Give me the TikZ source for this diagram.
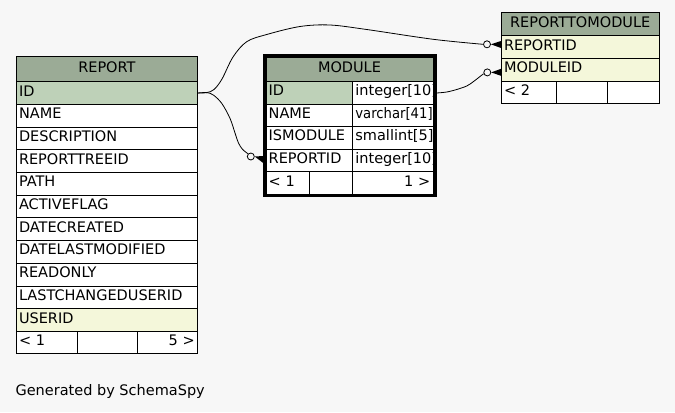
\documentclass[tikz,border=0pt]{standalone}
\usepackage{fontspec}
\setmainfont{DejaVu Sans}
\definecolor{bg}{HTML}{F7F7F7}
\definecolor{hdr}{HTML}{9BAB96}
\definecolor{pk}{HTML}{BED1B8}
\definecolor{idx}{HTML}{F4F7DA}
\tikzset{
  cell/.style={draw=black, line width=0.75pt, rectangle, anchor=north west,
    inner xsep=2.025pt, inner ysep=0pt, outer sep=0pt, fill=white,
    text height=7.5pt, text depth=3pt,
    font=\fontsize{10.875}{13}\selectfont, align=left},
  cw/.style={minimum width=#1*0.75pt, text width=(#1-5.4)*0.75pt},
  ch/.style={minimum height=#1*0.75pt},
  hdrcell/.style={cell, fill=hdr, align=center},
  pkcell/.style={cell, fill=pk},
  idxcell/.style={cell, fill=idx},
  rcell/.style={cell, align=right},
  conn/.style={draw=black, line width=0.6pt},
  odot/.style={circle, draw=black, fill=bg, line width=0.6pt, minimum size=5.25pt, inner sep=0pt},
  crow/.style={fill=black},
  frame/.style={draw=black, line width=2pt}
}
\begin{document}
\begin{tikzpicture}[x=0.75pt, y=-0.75pt]
\useasboundingbox (0,0) rectangle (675,412);
\fill[bg] (0,0) rectangle (675,412);

% ---------- REPORT ----------
\node[hdrcell, cw=181.2, ch=25] (rep-h) at (16.3,56.7) {REPORT};
\node[pkcell, cw=181.2, ch=22.7] (rep-id) at (16.3,81.7) {ID};
\node[cell, cw=181.2, ch=22.7] (rep-name) at (16.3,104.4) {NAME};
\node[cell, cw=181.2, ch=22.7] (rep-desc) at (16.3,127.1) {DESCRIPTION};
\node[cell, cw=181.2, ch=22.7] (rep-tree) at (16.3,149.8) {REPORTTREEID};
\node[cell, cw=181.2, ch=22.7] (rep-path) at (16.3,172.5) {PATH};
\node[cell, cw=181.2, ch=22.7] (rep-act) at (16.3,195.2) {ACTIVEFLAG};
\node[cell, cw=181.2, ch=22.7] (rep-dc) at (16.3,217.9) {DATECREATED};
\node[cell, cw=181.2, ch=22.7] (rep-dlm) at (16.3,240.6) {DATELASTMODIFIED};
\node[cell, cw=181.2, ch=22.7] (rep-ro) at (16.3,263.3) {READONLY};
\node[cell, cw=181.2, ch=22.7] (rep-lcu) at (16.3,286.0) {LASTCHANGEDUSERID};
\node[idxcell, cw=181.2, ch=22.7] (rep-uid) at (16.3,308.7) {USERID};
\node[cell, cw=61, ch=22] (rep-f1) at (16.3,331.4) {< 1};
\node[cell, cw=60, ch=22] (rep-f2) at (77.3,331.4) {};
\node[rcell, cw=60.2, ch=22] (rep-f3) at (137.3,331.4) {5 >};

% ---------- MODULE ----------
\draw[fill=white, frame] (264.6,55.6) rectangle (435.6,195.6);
\begin{scope}
\clip (265.6,56.6) rectangle (433.9,194.7);
\node[hdrcell, cw=167, ch=24.7] (mod-h) at (266,57) {MODULE};
\node[pkcell, cw=86.7, ch=22.5] (mod-id) at (266,81.7) {ID};
\node[cell, cw=80.3, ch=22.5] (mod-idt) at (352.7,81.7) {integer[10]};
\node[cell, cw=86.7, ch=22.5] (mod-name) at (266,104.2) {NAME};
\node[cell, cw=80.3, ch=22.5] (mod-namet) at (352.7,104.2) {\scalebox{0.91}[1]{varchar[41]}};
\node[cell, cw=86.7, ch=22.5] (mod-ism) at (266,126.7) {ISMODULE};
\node[cell, cw=80.3, ch=22.5] (mod-ismt) at (352.7,126.7) {smallint[5]};
\node[cell, cw=86.7, ch=22.5] (mod-rid) at (266,149.2) {REPORTID};
\node[cell, cw=80.3, ch=22.5] (mod-ridt) at (352.7,149.2) {integer[10]};
\node[cell, cw=43.3, ch=22.6] (mod-f1) at (266,171.7) {< 1};
\node[cell, cw=43.4, ch=22.6] (mod-f2) at (309.3,171.7) {};
\node[rcell, cw=80.3, ch=22.6] (mod-f3) at (352.7,171.7) {1 >};
\end{scope}
\draw[frame] (264.6,55.6) rectangle (435.6,195.6);

% ---------- REPORTTOMODULE ----------
\node[hdrcell, cw=157.7, ch=23.4] (r2m-h) at (501.3,12.3) {REPORTTOMODULE};
\node[idxcell, cw=157.7, ch=22.6] (r2m-rid) at (501.3,35.7) {REPORTID};
\node[idxcell, cw=157.7, ch=22.7] (r2m-mid) at (501.3,58.3) {MODULEID};
\node[cell, cw=54.7, ch=22.7] (r2m-f1) at (501.3,81) {< 2};
\node[cell, cw=51.7, ch=22.7] (r2m-f2) at (556,81) {};
\node[cell, cw=51.3, ch=22.7] (r2m-f3) at (607.7,81) {};

% ---------- connector ends ----------
\node[odot] (o1) at (250.8,156.5) {};
\node[odot] (o2) at (487,44.3) {};
\node[odot] (o3) at (487.3,72.4) {};
\coordinate (k1t) at (263.2,156);
\coordinate (k1b) at (263.2,163);
\coordinate (k2t) at (501,41);
\coordinate (k2b) at (501,48);
\coordinate (k3t) at (501,68.8);
\coordinate (k3b) at (501,75.8);
\fill[crow] (o1.east) -- (k1t) -- (k1b) -- cycle;
\fill[crow] (o2.east) -- (k2t) -- (k2b) -- cycle;
\fill[crow] (o3.east) -- (k3t) -- (k3b) -- cycle;

% ---------- connectors ----------
\draw[conn] plot[smooth, tension=0.55] coordinates {(rep-id.east) (206.7,92.6) (214,89.5) (222,79) (233,57) (246.7,41.7) (266.7,34.5) (300,26.5) (330,25) (366.7,29.5) (433.3,39.3) (o2.west)};
\draw[conn] plot[smooth, tension=0.55] coordinates {(rep-id.east) (206.7,92.6) (213.3,95) (221.7,103.3) (230,118.3) (235,133) (238.5,143) (242.5,149.3) (o1.north west)};
\draw[conn] plot[smooth, tension=0.55] coordinates {([xshift=3pt]mod-idt.east) (446.7,92) (456.7,89.5) (466.7,86) (473.3,81.7) (480,76.5) (o3.200)};

\node[anchor=base west, inner sep=0pt, font=\fontsize{10.875}{13}\selectfont] (gen) at (15.3,395) {Generated by SchemaSpy};
\end{tikzpicture}
\end{document}
